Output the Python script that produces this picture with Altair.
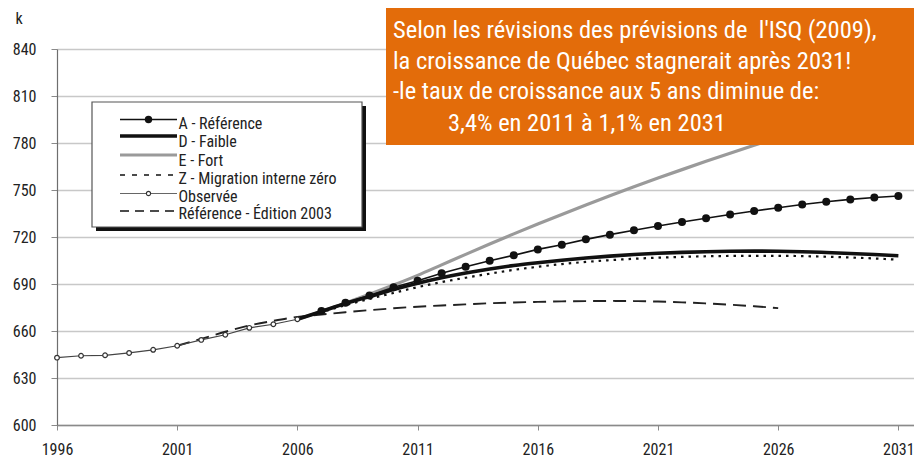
import altair as alt
import pandas as pd

# ---------------- data (thousands of inhabitants) ----------------
years_obs = list(range(1996, 2007))
observed = [643.0, 644.2, 644.5, 646.0, 648.0, 650.6, 654.3, 657.6, 662.0, 664.3, 667.5]

years_proj = list(range(2006, 2032))
ref_A = [667.5, 672.8, 678.0, 682.7, 687.9, 692.1, 696.8, 701.0, 704.9, 708.3, 712.1, 715.1, 718.5,
         721.5, 724.3, 727.0, 729.6, 732.0, 734.4, 736.6, 738.7, 740.7, 742.5, 744.0, 745.2, 746.2]
faible_D = [667.5, 672.5, 677.5, 682.0, 686.5, 690.5, 694.0, 697.0, 699.6, 701.8, 703.6, 705.2, 706.6,
            707.8, 708.8, 709.6, 710.2, 710.6, 710.9, 711.0, 710.9, 710.6, 710.1, 709.5, 708.8, 708.0]
fort_E = [667.5, 672.5, 677.8, 683.4, 689.3, 695.5, 702.2, 708.9, 715.5, 722.0, 728.3, 734.4, 740.4,
          746.3, 752.0, 757.6, 763.0, 768.3, 773.5, 778.6, 783.6, 788.5, 793.3, 798.0, 802.6, 807.1]
zero_Z = [667.5, 672.0, 676.5, 680.5, 684.3, 688.0, 691.2, 694.0, 696.6, 699.0, 701.0, 702.7, 704.1,
          705.2, 706.1, 706.8, 707.3, 707.7, 707.9, 708.0, 708.0, 707.8, 707.4, 706.9, 706.3, 705.5]

years_2003 = list(range(2001, 2027))
ed2003 = [650.6, 655.0, 659.5, 663.5, 666.5, 669.0, 670.5, 672.0, 673.3, 674.5, 675.5, 676.3, 677.0,
          677.7, 678.2, 678.6, 678.9, 679.1, 679.2, 679.1, 678.8, 678.3, 677.6, 676.8, 675.8, 674.6]

x_ticks = [1996, 2001, 2006, 2011, 2016, 2021, 2026, 2031]
y_ticks = [600, 630, 660, 690, 720, 750, 780, 810, 840]

legend_labels = ["A - Référence", "D - Faible", "E - Fort", "Z - Migration interne zéro",
                 "Observée", "Référence - Édition 2003"]
note_lines = ["Selon les révisions des prévisions de \u00a0l'ISQ (2009),",
              "la croissance de Québec stagnerait après 2031!",
              "-le taux de croissance aux 5 ans diminue de:",
              "3,4% en 2011 à 1,1% en 2031"]

FONT = "Liberation Sans Narrow, Arial Narrow, Roboto Condensed, Liberation Sans, sans-serif"

df_obs = pd.DataFrame({"year": years_obs, "value": observed})
df_A = pd.DataFrame({"year": years_proj, "value": ref_A})
df_A_pts = df_A[df_A.year >= 2007]
df_D = pd.DataFrame({"year": years_proj, "value": faible_D})
df_E = pd.DataFrame({"year": years_proj, "value": fort_E})
df_Z = pd.DataFrame({"year": years_proj, "value": zero_Z})
df_03 = pd.DataFrame({"year": years_2003, "value": ed2003})

X = alt.X("year:Q",
          scale=alt.Scale(domain=[1996, 2031.65], nice=False, zero=False),
          axis=alt.Axis(values=x_ticks, format="d", title=None, grid=False, labelFlush=False,
                        domainColor="#8a8a8a", domainWidth=1.5,
                        tickColor="#8a8a8a", tickSize=5, labelPadding=11,
                        labelFontSize=16, labelColor="#222222", labelFont=FONT))
Y = alt.Y("value:Q",
          scale=alt.Scale(domain=[600, 840], nice=False, zero=False),
          axis=alt.Axis(values=y_ticks, title="k", titleAngle=0, titleAlign="left",
                        titleBaseline="middle", titleX=-42, titleY=-31, labelFlush=False,
                        titleFontSize=16, titleFontWeight="normal", titleFont=FONT,
                        titleColor="#222222",
                        grid=True, gridColor="#c8c8c8", gridWidth=1.3,
                        domainColor="#6e6e6e", domainWidth=1.2,
                        tickColor="#8a8a8a", tickSize=6, labelPadding=15,
                        labelFontSize=16, labelColor="#222222", labelFont=FONT))

line_E = alt.Chart(df_E).mark_line(color="#9a9a9a", strokeWidth=3.2, interpolate="monotone").encode(x=X, y=Y)
line_03 = alt.Chart(df_03).mark_line(color="#222222", strokeWidth=1.9, strokeDash=[13, 7],
                                     interpolate="monotone").encode(x=X, y=Y)
line_Z = alt.Chart(df_Z).mark_line(color="#111111", strokeWidth=2.2, strokeDash=[2.5, 5],
                                   interpolate="monotone").encode(x=X, y=Y)
line_D = alt.Chart(df_D).mark_line(color="#111111", strokeWidth=3.6, interpolate="monotone").encode(x=X, y=Y)
line_A = alt.Chart(df_A).mark_line(color="#111111", strokeWidth=1.6).encode(x=X, y=Y)
pts_A = alt.Chart(df_A_pts).mark_point(filled=True, color="#111111", size=64, opacity=1).encode(x=X, y=Y)
line_obs = alt.Chart(df_obs).mark_line(color="#444444", strokeWidth=1.2).encode(x=X, y=Y)
pts_obs = alt.Chart(df_obs).mark_point(filled=True, fill="white", stroke="#333333", strokeWidth=1.2,
                                       size=22, opacity=1).encode(x=X, y=Y)

one = pd.DataFrame({"k": [0]})

# ---------------- manual legend (plot pixel coordinates) ----------------
leg_shadow = alt.Chart(one).mark_rect(color="#111111").encode(
    x=alt.value(39), x2=alt.value(309), y=alt.value(57), y2=alt.value(182))
leg_box = alt.Chart(one).mark_rect(fill="white", stroke="#555555", strokeWidth=1.2).encode(
    x=alt.value(35), x2=alt.value(305), y=alt.value(53), y2=alt.value(178))

sym_y = [70.5, 87, 106, 126, 144.5, 162]
txt_y = [74.5, 92.5, 111.5, 129.5, 147.5, 165]
sym_styles = [
    dict(color="#111111", strokeWidth=1.6),
    dict(color="#111111", strokeWidth=3.6),
    dict(color="#9a9a9a", strokeWidth=3.2),
    dict(color="#111111", strokeWidth=1.6, strokeDash=[5, 7]),
    dict(color="#666666", strokeWidth=1.2),
    dict(color="#111111", strokeWidth=1.6, strokeDash=[9, 6]),
]
legend_layers = [leg_shadow, leg_box]
for i, lab in enumerate(legend_labels):
    legend_layers.append(alt.Chart(one).mark_rule(**sym_styles[i]).encode(
        x=alt.value(63), x2=alt.value(120), y=alt.value(sym_y[i]), y2=alt.value(sym_y[i])))
    legend_layers.append(alt.Chart(one).mark_text(
        align="left", baseline="middle", font=FONT, fontSize=16, color="#222222").encode(
        x=alt.value(121.5), y=alt.value(txt_y[i]), text=alt.value(lab)))
legend_layers.append(alt.Chart(one).mark_point(filled=True, color="#111111", size=55, opacity=1).encode(
    x=alt.value(91.5), y=alt.value(sym_y[0])))
legend_layers.append(alt.Chart(one).mark_point(filled=True, fill="white", stroke="#333333",
                                                strokeWidth=1.1, size=18, opacity=1).encode(
    x=alt.value(91.5), y=alt.value(sym_y[4])))

# ---------------- orange note box ----------------
note_box = alt.Chart(one).mark_rect(color="#E36C0A").encode(
    x=alt.value(329), x2=alt.value(870), y=alt.value(-45), y2=alt.value(96))
note_x = [336, 336, 336, 391]
note_y = [-11.5, 19.5, 49.5, 81.5]
note_layers = [note_box]
for i, line in enumerate(note_lines):
    note_layers.append(alt.Chart(one).mark_text(
        align="left", baseline="alphabetic", font=FONT, fontSize=24.5, color="white").encode(
        x=alt.value(note_x[i]), y=alt.value(note_y[i]), text=alt.value(line)))

chart = alt.layer(
    line_E, line_03, line_Z, line_D, line_A, pts_A, line_obs, pts_obs,
    *legend_layers, *note_layers
).properties(
    width=857, height=376,
    padding={"left": 49, "top": 41, "right": 0, "bottom": 33},
    autosize="none", background="white"
).configure_view(stroke=None)

chart.save("out.html", embed_options={"renderer": "svg", "actions": False})
